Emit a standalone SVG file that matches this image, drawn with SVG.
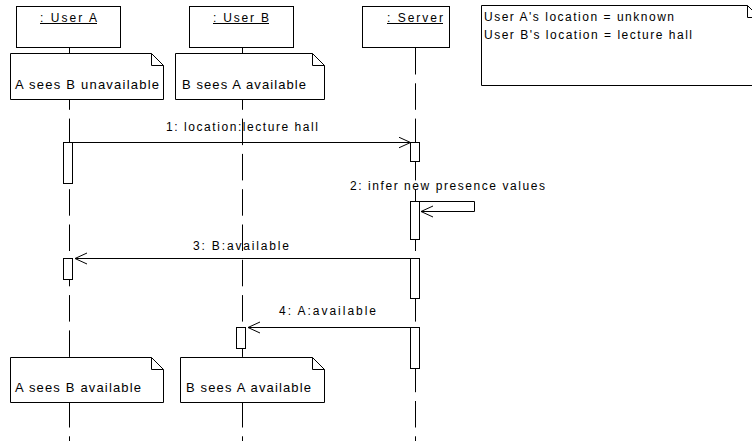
<svg xmlns="http://www.w3.org/2000/svg" width="752" height="441" viewBox="0 0 752 441">
<defs>
<style>
.box{fill:#fff;stroke:#000;stroke-width:1}
.life{stroke:#000;stroke-width:1;stroke-dasharray:26.5 8.8;fill:none}
.act{fill:#fff;stroke:#000;stroke-width:1}
.msg{fill:none;stroke:#000;stroke-width:1}
.fold{fill:none;stroke:#000;stroke-width:1}
.ul{stroke:#000;stroke-width:1}
text{font-family:"Liberation Sans",Arial,sans-serif;fill:#000}
.head{font-size:12px}
.note{font-size:13px}
.lbl{font-size:12px}
</style>
<marker id="open" markerUnits="userSpaceOnUse" markerWidth="14" markerHeight="14" refX="12" refY="6" orient="auto" viewBox="0 0 14 14">
<path d="M0,0.5 L12,6 L0,11.5" fill="none" stroke="#000" stroke-width="1"/>
</marker>
</defs>
<rect width="752" height="441" fill="#fff"/>

<g id="userA">
<line class="life" x1="69.5" y1="48" x2="69.5" y2="441"/>
<rect class="box" x="16.5" y="6.5" width="104" height="41"/>
<text class="head" x="40" y="22" textLength="57" lengthAdjust="spacing">: User A</text>
<line class="ul" x1="40" y1="23.5" x2="97" y2="23.5"/>
</g>
<g id="userB">
<line class="life" x1="242.5" y1="48" x2="242.5" y2="441"/>
<rect class="box" x="189.5" y="6.5" width="104" height="41"/>
<text class="head" x="213" y="22" textLength="56" lengthAdjust="spacing">: User B</text>
<line class="ul" x1="213" y1="23.5" x2="269" y2="23.5"/>
</g>
<g id="server">
<line class="life" x1="415.5" y1="48" x2="415.5" y2="441"/>
<rect class="box" x="362.5" y="6.5" width="87" height="41"/>
<text class="head" x="387" y="22" textLength="56" lengthAdjust="spacing">: Server</text>
<line class="ul" x1="387" y1="23.5" x2="443" y2="23.5"/>
</g>

<g id="noteA1">
<path class="box" d="M10.5,53.5 H151.5 L163.5,65.5 V99.5 H10.5 Z"/>
<path class="fold" d="M151.5,53.5 V65.5 H163.5"/>
<text class="note" x="15" y="89" textLength="144" lengthAdjust="spacing">A sees B unavailable</text>
</g>
<g id="noteB1">
<path class="box" d="M175.5,53.5 H312.5 L324.5,65.5 V99.5 H175.5 Z"/>
<path class="fold" d="M312.5,53.5 V65.5 H324.5"/>
<text class="note" x="182" y="89" textLength="124" lengthAdjust="spacing">B sees A available</text>
</g>
<g id="noteState">
<path class="box" d="M481.5,5.5 H747.5 L759.5,17.5 V85.5 H481.5 Z"/>
<path class="fold" d="M747.5,5.5 V17.5 H759.5"/>
<text class="lbl" x="484" y="21" textLength="190" lengthAdjust="spacing">User A's location = unknown</text>
<text class="lbl" x="484" y="39" textLength="208" lengthAdjust="spacing">User B's location = lecture hall</text>
</g>
<g id="noteA2">
<path class="box" d="M10.5,357.5 H151.5 L163.5,369.5 V402.5 H10.5 Z"/>
<path class="fold" d="M151.5,357.5 V369.5 H163.5"/>
<text class="note" x="15" y="392" textLength="126" lengthAdjust="spacing">A sees B available</text>
</g>
<g id="noteB2">
<path class="box" d="M180.5,357.5 H312.5 L324.5,369.5 V402.5 H180.5 Z"/>
<path class="fold" d="M312.5,357.5 V369.5 H324.5"/>
<text class="note" x="186" y="392" textLength="125" lengthAdjust="spacing">B sees A available</text>
</g>

<g id="activations">
<rect class="act" x="63.5" y="142.5" width="9" height="41"/>
<rect class="act" x="410.5" y="142.5" width="9" height="19"/>
<rect class="act" x="410.5" y="201.5" width="9" height="38"/>
<rect class="act" x="410.5" y="258.5" width="9" height="40"/>
<rect class="act" x="63.5" y="258.5" width="9" height="21"/>
<rect class="act" x="410.5" y="327.5" width="9" height="41"/>
<rect class="act" x="236.5" y="327.5" width="9" height="21"/>
</g>

<g id="connectors">
<line class="msg" x1="72.5" y1="142.5" x2="410.5" y2="142.5" marker-end="url(#open)"/>
<text class="lbl" x="166" y="131" textLength="152" lengthAdjust="spacing">1: location:lecture hall</text>
<path class="msg" d="M419.5,201.5 H474.5 V211.5 H421" marker-end="url(#open)"/>
<text class="lbl" x="350" y="190" textLength="195" lengthAdjust="spacing">2: infer new presence values</text>
<line class="msg" x1="410.5" y1="258.5" x2="75" y2="258.5" marker-end="url(#open)"/>
<text class="lbl" x="193" y="250" textLength="96" lengthAdjust="spacing">3: B:available</text>
<line class="msg" x1="410.5" y1="327.5" x2="248" y2="327.5" marker-end="url(#open)"/>
<text class="lbl" x="279" y="315" textLength="97" lengthAdjust="spacing">4: A:available</text>
</g>
</svg>
